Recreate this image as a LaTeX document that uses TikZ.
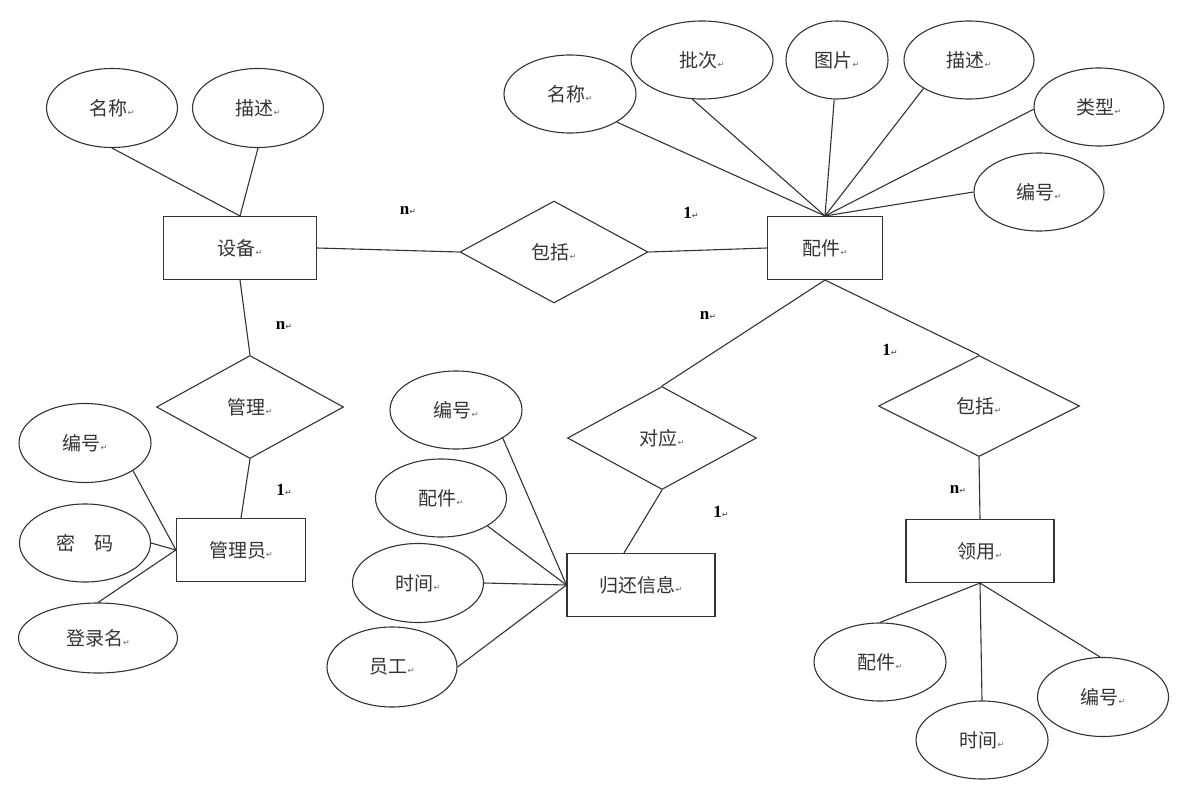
\documentclass[tikz,border=0pt]{standalone}
\usepackage{fontspec}
\setmainfont{Liberation Serif}
\newfontfamily\cjk{Noto Sans CJK SC}
\newfontfamily\dvs{DejaVu Sans}
\usetikzlibrary{shapes.geometric}
\newcommand{\rt}{{\dvs\fontsize{8}{8}\selectfont\color{black!60}↵}}
\begin{document}
\begin{tikzpicture}[x=1pt,y=-1pt,
  conn/.style={line width=1.1pt,draw=black!80},
  attr/.style={ellipse,draw=black!80,line width=1.1pt,inner sep=0pt,font=\cjk\fontsize{19}{22}\selectfont,text=black!80},
  ent/.style={rectangle,draw=black!80,line width=1.1pt,inner sep=0pt,font=\cjk\fontsize{19}{22}\selectfont,text=black!80,minimum height=63pt},
  rel/.style={diamond,draw=black!80,line width=1.1pt,inner sep=0pt,font=\cjk\fontsize{19}{22}\selectfont,text=black!80},
  card/.style={font=\bfseries\fontsize{17}{19}\selectfont,inner sep=0pt}]
\path[use as bounding box] (0,0) rectangle (1202,808);
% ---------- 设备 cluster
\node[ent,minimum width=153pt] (sb) at (240,248) {设备\rt};
\node[attr,minimum width=131pt,minimum height=79pt] (smc) at (112,108) {名称\rt};
\node[attr,minimum width=131pt,minimum height=79pt] (sms) at (258,108) {描述\rt};
\draw[conn] (smc.south) -- (sb.north);
\draw[conn] (sms.south) -- (sb.north);
% ---------- 管理 / 管理员
\node[rel,minimum width=187pt,minimum height=103pt] (gl) at (250,407) {管理\rt};
\node[ent,minimum width=129pt] (mgy) at (241,550) {管理员\rt};
\node[attr,minimum width=132pt,minimum height=79pt] (mbh) at (85,443) {编号\rt};
\node[attr,minimum width=131pt,minimum height=78pt] (mmm) at (85,543) {密\hspace{1em}码};
\node[attr,minimum width=159pt,minimum height=70pt] (mdl) at (98,638) {登录名\rt};
\draw[conn] (sb.south) -- (gl.north);
\draw[conn] (gl.south) -- (mgy.north);
\draw[conn] (mbh.-30) -- (mgy.west);
\draw[conn] (mmm.east) -- (mgy.west);
\draw[conn] (mdl.north) -- (mgy.west);
% ---------- 包括 (middle)
\node[rel,minimum width=188pt,minimum height=102pt] (bk1) at (554,252) {包括\rt};
\node[ent,minimum width=115pt] (pj) at (825,248) {配件\rt};
\draw[conn] (sb.east) -- (bk1.west);
\draw[conn] (bk1.east) -- (pj.west);
% ---------- 配件 attributes
\node[attr,minimum width=132pt,minimum height=78pt] (pmc) at (570,94) {名称\rt};
\node[attr,minimum width=142pt,minimum height=78pt] (ppc) at (702,60) {批次\rt};
\node[attr,minimum width=102pt,minimum height=78pt] (ptp) at (837,60) {图片\rt};
\node[attr,minimum width=130pt,minimum height=78pt] (pms) at (969,60) {描述\rt};
\node[attr,minimum width=130pt,minimum height=78pt] (plx) at (1099,107) {类型\rt};
\node[attr,minimum width=130pt,minimum height=78pt] (pbh) at (1039,192) {编号\rt};
\draw[conn] (pmc.-31) -- (pj.north);
\draw[conn] (ppc.-104) -- (pj.north);
\draw[conn] (ptp.-94) -- (pj.north);
\draw[conn] (pms.-148) -- (pj.north);
\draw[conn] (plx.-178) -- (pj.north);
\draw[conn] (pbh.west) -- (pj.north);
% ---------- 对应 / 归还信息
\node[rel,minimum width=189pt,minimum height=103pt] (dy) at (662,438) {对应\rt};
\node[ent,minimum width=148pt] (gh) at (641,585) {归还信息\rt};
\draw[conn] (pj.south) -- (dy.north);
\draw[conn] (dy.south) -- ([xshift=-17pt]gh.north);
\node[attr,minimum width=132pt,minimum height=78pt] (gbh) at (456,410) {编号\rt};
\node[attr,minimum width=131pt,minimum height=78pt] (gpj) at (441,498) {配件\rt};
\node[attr,minimum width=131pt,minimum height=79pt] (gsj) at (418,583) {时间\rt};
\node[attr,minimum width=130pt,minimum height=80pt] (gyg) at (392,667) {员工\rt};
\draw[conn] (gbh.-31) -- (gh.west);
\draw[conn] (gpj.-31) -- (gh.west);
\draw[conn] (gsj.east) -- (gh.west);
\draw[conn] (gyg.east) -- (gh.west);
% ---------- 包括 (right) / 领用
\node[rel,minimum width=201pt,minimum height=101pt] (bk2) at (979,406) {包括\rt};
\node[ent,minimum width=148pt] (ly) at (980,551) {领用\rt};
\draw[conn] (pj.south) -- (bk2.north);
\draw[conn] (bk2.south) -- (ly.north);
\node[attr,minimum width=132pt,minimum height=78pt] (lpj) at (880,662) {配件\rt};
\node[attr,minimum width=132pt,minimum height=78pt] (lsj) at (982,740) {时间\rt};
\node[attr,minimum width=131pt,minimum height=79pt] (lbh) at (1103,697) {编号\rt};
\draw[conn] (ly.south) -- (lpj.north);
\draw[conn] (ly.south) -- (lsj.north);
\draw[conn] (ly.south) -- ([xshift=-3pt]lbh.north);
% ---------- cardinalities
\node[card] (c1) at (408,210) {n\rt};
\node[card] (c2) at (691,213) {1\rt};
\node[card] (c3) at (284,325) {n\rt};
\node[card] (c4) at (284,490) {1\rt};
\node[card] (c5) at (708,315) {n\rt};
\node[card] (c6) at (721,512) {1\rt};
\node[card] (c7) at (890,350) {1\rt};
\node[card] (c8) at (958,489) {n\rt};
\end{tikzpicture}
\end{document}
